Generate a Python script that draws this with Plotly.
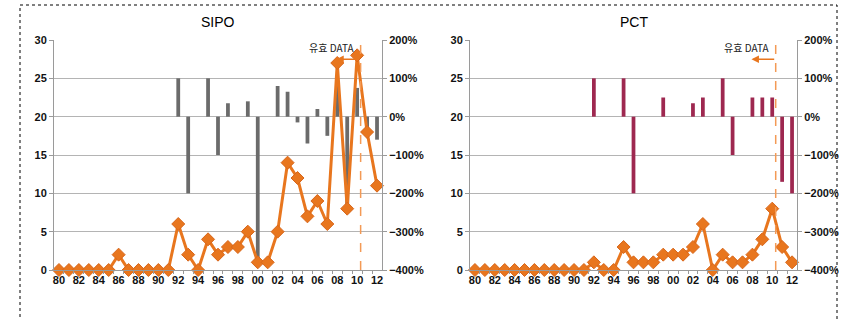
import plotly.graph_objects as go

# Years 1980-2012
years = list(range(1980, 2013))
tick_years = list(range(1980, 2013, 2))
tick_text = [f"{y % 100:02d}" for y in tick_years]

# Filing counts (left axis)
sipo_counts = [0, 0, 0, 0, 0, 0, 2, 0, 0, 0, 0, 0, 6, 2, 0, 4, 2, 3, 3, 5,
               1, 1, 5, 14, 12, 7, 9, 6, 27, 8, 28, 18, 11]
pct_counts = [0, 0, 0, 0, 0, 0, 0, 0, 0, 0, 0, 0, 1, 0, 0, 3, 1, 1, 1, 2,
              2, 2, 3, 6, 0, 2, 1, 1, 2, 4, 8, 3, 1]

# Year-on-year growth (right axis, %)
sipo_growth_years = [1992, 1993, 1995, 1996, 1997, 1999, 2000, 2002, 2003, 2004,
                     2005, 2006, 2007, 2008, 2009, 2010, 2011, 2012]
sipo_growth = [100, -200, 100, -100, 35, 40, -390, 80, 65, -15,
               -70, 20, -50, 80, -250, 75, -40, -60]
pct_growth_years = [1992, 1995, 1996, 1999, 2002, 2003, 2005, 2006, 2008, 2009,
                    2010, 2011, 2012]
pct_growth = [100, 100, -200, 50, 35, 50, 100, -100, 50, 50, 50, -170, -200]

cutoff_year = 2010.35

ORANGE = "#e8761e"
GRID = "#b4b4b4"
AXIS = "#9a9a9a"
TICKFONT = dict(family="Liberation Sans, Arial", size=11, color="#111", weight="bold")

W, H = 846, 320
top_px, bot_px = 40, 270
ydom = [1 - bot_px / H, 1 - top_px / H]

panels = [
    dict(title="SIPO", x0=54, x1=382, counts=sipo_counts,
         gyears=sipo_growth_years, growth=sipo_growth, bar_color="#6b6b6b"),
    dict(title="PCT", x0=470, x1=797, counts=pct_counts,
         gyears=pct_growth_years, growth=pct_growth, bar_color="#9e2850"),
]

fig = go.Figure()
layout = dict(width=W, height=H, autosize=False,
              margin=dict(l=0, r=0, t=0, b=0, pad=0, autoexpand=False),
              paper_bgcolor="white", plot_bgcolor="white", showlegend=False,
              shapes=[], annotations=[])

for i, p in enumerate(panels):
    xa = "x" if i == 0 else "x2"
    ya_pct = "y" if i == 0 else "y3"
    ya_cnt = "y2" if i == 0 else "y4"
    xkey = "xaxis" if i == 0 else "xaxis2"
    pkey = "yaxis" if i == 0 else "yaxis3"
    ckey = "yaxis2" if i == 0 else "yaxis4"
    dom = [p["x0"] / W, p["x1"] / W]

    # growth bars on the percentage axis
    fig.add_trace(go.Bar(x=p["gyears"], y=p["growth"], base=0, width=0.38,
                         marker=dict(color=p["bar_color"], line=dict(width=0)),
                         xaxis=xa, yaxis=ya_pct))
    # filing counts on the count axis (drawn above the bars)
    fig.add_trace(go.Scatter(x=years, y=p["counts"], mode="lines+markers",
                             line=dict(color=ORANGE, width=3),
                             marker=dict(symbol="diamond", size=10, color=ORANGE,
                                         line=dict(color="#d8661a", width=1)),
                             cliponaxis=False, xaxis=xa, yaxis=ya_cnt))

    layout[xkey] = dict(domain=dom, anchor=ya_pct, range=[1979.5, 2012.5],
                        automargin=False,
                        tickvals=tick_years, ticktext=tick_text, tickfont=TICKFONT,
                        showgrid=False, zeroline=False, showline=True,
                        linecolor=AXIS, linewidth=1, ticks="",
                        minor=dict(tickvals=[y + 0.5 for y in years[:-1]],
                                   ticks="outside", ticklen=3, tickcolor=AXIS))
    layout[pkey] = dict(domain=ydom, anchor=xa, side="right", range=[-400, 200],
                        automargin=False,
                        dtick=100, ticksuffix="%", tickfont=TICKFONT,
                        showgrid=True, gridcolor=GRID, gridwidth=1, zeroline=False,
                        showline=True, linecolor=AXIS, ticks="outside", ticklen=4,
                        tickcolor=AXIS)
    layout[ckey] = dict(overlaying=ya_pct, anchor=xa, side="left", range=[0, 30],
                        automargin=False,
                        dtick=5, tickfont=TICKFONT, showgrid=False, zeroline=False,
                        showline=True, linecolor=AXIS, ticks="outside", ticklen=4,
                        tickcolor=AXIS)

    # cutoff marker for valid data
    layout["shapes"].append(dict(type="line", xref=xa, yref="paper",
                                 x0=cutoff_year, x1=cutoff_year,
                                 y0=ydom[0], y1=ydom[1],
                                 line=dict(color="#f39a55", width=1.5, dash="dash")))
    layout["annotations"].append(dict(xref=xa, yref=ya_cnt, x=2007.9, y=27.5,
                                      axref=xa, ayref=ya_cnt, ax=cutoff_year, ay=27.5,
                                      text="", showarrow=True, arrowhead=2,
                                      arrowsize=1, arrowwidth=1.5,
                                      arrowcolor=ORANGE))
    layout["annotations"].append(dict(xref=xa, yref=ya_cnt, x=cutoff_year - 0.5,
                                      y=29, text="유효 DATA", showarrow=False,
                                      xanchor="right", yanchor="middle",
                                      font=dict(family="Noto Sans CJK KR", size=10,
                                                color="#222")))
    layout["annotations"].append(dict(xref="paper", yref="paper",
                                      x=(dom[0] + dom[1]) / 2, y=1 - 22 / H,
                                      text=p["title"], showarrow=False,
                                      xanchor="center", yanchor="middle",
                                      font=dict(family="Liberation Sans, Arial",
                                                size=14, color="#000")))

# dotted frame around the figure
layout["shapes"].append(dict(type="rect", xref="paper", yref="paper",
                             x0=20 / W, x1=837 / W, y0=-0.05, y1=1 - 5 / H,
                             line=dict(color="#000", width=1, dash="dot")))

fig.update_layout(**layout)
fig.write_html("out.html")
